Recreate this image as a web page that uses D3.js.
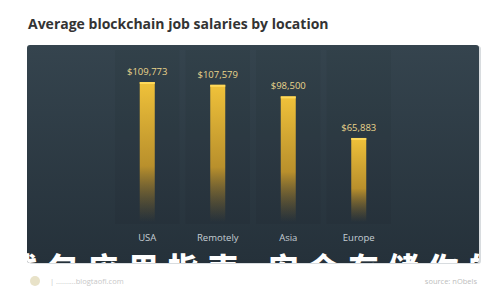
<!DOCTYPE html>
<html>
<head>
<meta charset="utf-8">
<script src="https://cdn.jsdelivr.net/npm/d3@7"></script>
<style>
  body { margin: 0; background: #fff; }
  svg { display: block; }
</style>
</head>
<body>
<script>
// data
const locations = ['USA', 'Remotely', 'Asia', 'Europe']
const salaries = [109773, 107579, 98500, 65883]
const titleText = 'Average blockchain job salaries by location'
const overlayText = '钱包应用指南,安全存储你的钱'

const width = 500, height = 300
const panel = {x: 27, y: 45, w: 452, h: 218}

const svg = d3.select('body').append('svg')
    .attr('width', width)
    .attr('height', height)

const defs = svg.append('defs')

const bg = defs.append('linearGradient').attr('id', 'bg')
    .attr('x1', 0).attr('y1', 0).attr('x2', 0).attr('y2', 1)
bg.append('stop').attr('offset', '0%').attr('stop-color', '#35444e')
bg.append('stop').attr('offset', '100%').attr('stop-color', '#25313a')

const barGrad = defs.append('linearGradient').attr('id', 'bar')
    .attr('x1', 0).attr('y1', 0).attr('x2', 0).attr('y2', 1)
barGrad.append('stop').attr('offset', '0%').attr('stop-color', '#f0c23a').attr('stop-opacity', 1)
barGrad.append('stop').attr('offset', '60%').attr('stop-color', '#c99a2a').attr('stop-opacity', 0.9)
barGrad.append('stop').attr('offset', '100%').attr('stop-color', '#8a6a25').attr('stop-opacity', 0)

defs.append('clipPath').attr('id', 'panelClip')
    .append('rect')
    .attr('x', panel.x).attr('y', panel.y)
    .attr('width', panel.w).attr('height', panel.h)
    .attr('rx', 3)

// title
svg.append('text')
    .attr('x', 28)
    .attr('y', 29)
    .attr('font-family', 'Open Sans')
    .attr('font-weight', 700)
    .attr('font-size', 14)
    .attr('fill', '#333')
    .text(titleText)

// panel with a faint shadow on the right
svg.append('rect')
    .attr('x', panel.x + 2).attr('y', panel.y + 1)
    .attr('width', panel.w).attr('height', panel.h)
    .attr('rx', 3)
    .attr('fill', '#d8dcdf')
svg.append('rect')
    .attr('x', panel.x).attr('y', panel.y)
    .attr('width', panel.w).attr('height', panel.h)
    .attr('rx', 3)
    .attr('fill', 'url(#bg)')

const x = d3.scaleBand()
    .domain(locations)
    .range([112, 394])
    .paddingInner(0)

const y = d3.scaleLinear()
    .domain([0, d3.max(salaries)])
    .range([222, 82])

const g = svg.append('g').attr('clip-path', 'url(#panelClip)')

// darker column strips behind the bars
g.selectAll('.col')
    .data(locations)
    .enter()
    .append('rect')
    .attr('class', 'col')
    .attr('x', d => x(d) + 3)
    .attr('y', 50)
    .attr('width', x.bandwidth() - 6)
    .attr('height', 174)
    .attr('fill', 'rgba(0,0,0,0.045)')

const barW = 15
g.selectAll('.bar')
    .data(salaries)
    .enter()
    .append('rect')
    .attr('class', 'bar')
    .attr('x', (d, i) => x(locations[i]) + x.bandwidth() / 2 - barW / 2)
    .attr('y', d => y(d))
    .attr('width', barW)
    .attr('height', d => y(0) - y(d))
    .attr('fill', 'url(#bar)')

// bright top edge
g.selectAll('.cap')
    .data(salaries)
    .enter()
    .append('rect')
    .attr('class', 'cap')
    .attr('x', (d, i) => x(locations[i]) + x.bandwidth() / 2 - barW / 2)
    .attr('y', d => y(d))
    .attr('width', barW)
    .attr('height', 2)
    .attr('fill', '#ffd95a')

g.selectAll('.val')
    .data(salaries)
    .enter()
    .append('text')
    .attr('class', 'val')
    .attr('x', (d, i) => x(locations[i]) + x.bandwidth() / 2)
    .attr('y', d => y(d) - 7)
    .attr('text-anchor', 'middle')
    .attr('font-family', 'Open Sans')
    .attr('font-size', 9.5)
    .attr('fill', '#ead58c')
    .text(d => '$' + d3.format(',')(d))

g.selectAll('.cat')
    .data(locations)
    .enter()
    .append('text')
    .attr('class', 'cat')
    .attr('x', d => x(d) + x.bandwidth() / 2)
    .attr('y', 241)
    .attr('text-anchor', 'middle')
    .attr('font-family', 'Open Sans')
    .attr('font-size', 9.5)
    .attr('fill', '#c5ced4')
    .text(d => d)

// big white overlay caption, only its top shows inside the panel
g.append('text')
    .attr('x', 8)
    .attr('y', 279)
    .attr('font-family', 'Noto Sans CJK SC')
    .attr('font-weight', 900)
    .attr('font-size', 30)
    .attr('letter-spacing', 10)
    .attr('fill', '#fff')
    .text(overlayText)

// footer
svg.append('circle')
    .attr('cx', 35).attr('cy', 281).attr('r', 5)
    .attr('fill', '#e8e2c8')
svg.append('text')
    .attr('x', 50).attr('y', 284)
    .attr('font-family', 'Open Sans')
    .attr('font-size', 7.5)
    .attr('fill', '#c8c8c8')
    .text('| ..........blogtaofi.com')
svg.append('text')
    .attr('x', 477).attr('y', 284)
    .attr('text-anchor', 'end')
    .attr('font-family', 'Open Sans')
    .attr('font-size', 7.5)
    .attr('fill', '#bdbdbd')
    .text('source: nObels')
</script>
</body>
</html>
